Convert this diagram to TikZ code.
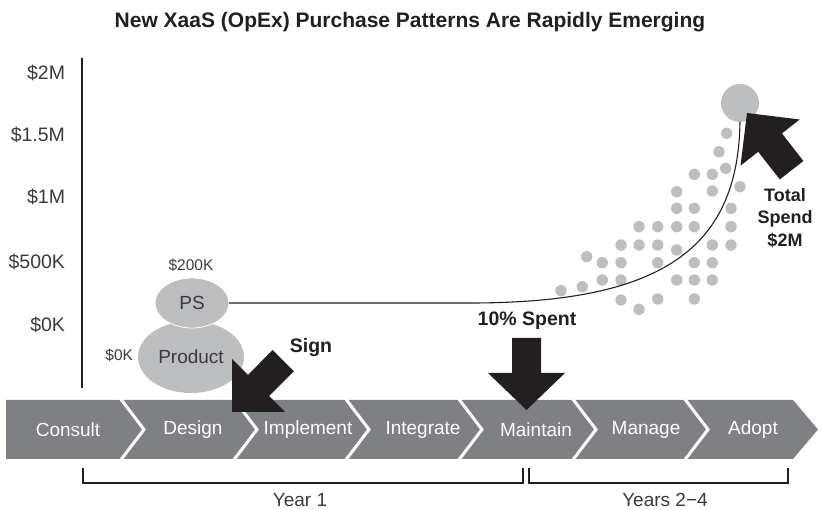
\documentclass[tikz,border=0pt]{standalone}
\usepackage{fontspec}
\setmainfont{Liberation Sans}
\usetikzlibrary{shapes.geometric}
\definecolor{band}{HTML}{7F8084}
\definecolor{blob}{HTML}{BDBEC0}
\definecolor{ink}{HTML}{231F20}
\definecolor{softink}{HTML}{3A3A3C}
\begin{document}
\begin{tikzpicture}[x=1pt,y=-1pt,
  every node/.style={inner sep=0pt, outer sep=0pt},
  axislbl/.style={font=\fontsize{19.5}{22}\selectfont, text=softink, anchor=east},
  smalllbl/.style={font=\fontsize{15.5}{18}\selectfont, text=softink},
  stagelbl/.style={font=\fontsize{19}{22}\selectfont, text=white},
  callout/.style={font=\bfseries\fontsize{19.5}{22.5}\selectfont, text=ink, align=center},
  blobshape/.style={ellipse, fill=blob, font=\fontsize{19}{22}\selectfont, text=softink},
  bigarrow/.style={fill=ink},
  dot/.style={fill=blob},
  bracket/.style={draw=ink, line width=1.2pt},
  separator/.style={draw=white, line width=3pt}
]
\useasboundingbox (0,0) rectangle (823,510);

% heading
\node[font=\bfseries\fontsize{21}{24}\selectfont, text=ink] (title) at (410,22) {New XaaS (OpEx) Purchase Patterns Are Rapidly Emerging};

% value axis
\draw[ink, line width=1.3pt] (82,58) -- (82,388);
\node[axislbl] (v2m)   at (65,73)  {\$2M};
\node[axislbl] (v15m)  at (65,135) {\$1.5M};
\node[axislbl] (v1m)   at (65,197) {\$1M};
\node[axislbl] (v500k) at (65,262) {\$500K};
\node[axislbl] (v0k)   at (65,325) {\$0K};

% lifecycle band
\fill[band] (6,400) -- (793,400) -- (818,429.5) -- (793,459) -- (6,459) -- cycle;
\foreach \x in {120,233,345,458,572,684}
  \draw[separator] (\x,398) -- (\x+24,429.5) -- (\x,461);
\node[stagelbl] (consult)   at (68,429.5)  {Consult};
\node[stagelbl] (design)    at (193,429.5) {Design};
\node[stagelbl] (implement) at (308,429.5) {Implement};
\node[stagelbl] (integrate) at (423,429.5) {Integrate};
\node[stagelbl] (maintain)  at (536,429.5) {Maintain};
\node[stagelbl] (manage)    at (646,429.5) {Manage};
\node[stagelbl] (adopt)     at (753,429.5) {Adopt};

% year brackets
\draw[bracket] (83,468) |- (523,483) -- (523,468);
\draw[bracket] (529,468) |- (788,483) -- (788,468);
\node[stagelbl, text=softink] (year1)  at (300,500) {Year 1};
\node[stagelbl, text=softink] (years24) at (665,500) {Years 2−4};

% spend blobs
\node[blobshape, minimum width=106, minimum height=72] (product) at (191,357) {Product};
\node[blobshape, draw=white, line width=0.8pt, minimum width=74, minimum height=50] (ps) at (192,303) {PS};
\node[smalllbl] (ps200) at (191,265) {\$200K};
\node[smalllbl, anchor=east] (prod0) at (133,355) {\$0K};

% recurring spend dots
\foreach \p in {(726.7,133.3),(719,151.7),(725.7,168.3),(694.3,174.3),(712.3,174.3),
  (712.3,191),(740,186.7),(676.7,191.7),(676.7,208.3),(694.3,208.3),(731,208.3),
  (639,226.7),(657.7,226.7),(676.7,226.7),(694.3,226.7),(731,226.7),
  (621,245),(639,245),(657.7,245),(676.7,250),(712.3,245),(731,245),
  (586.7,256.7),(602.3,262.7),(621,262.7),(657.7,262.7),(694.3,262.7),(712.3,262.7),
  (561,290.7),(582.3,286.7),(602.3,280),(621,280),(676.7,280),(694.3,280),(712.3,280),
  (621,300),(639,309.3),(657.7,299),(694.3,299)}
  \fill[dot] \p circle (5.7);

% total spend point and spend curve
\node[circle, fill=blob, minimum size=38] (total) at (740,103) {};
\draw[ink, line width=1.1pt] (ps.east) -- (470,303)
  .. controls (660,303) and (738,250) .. (total.south);

% sign arrow (pointing down-left)
\fill[bigarrow] (232,412) -- (285,412) -- (269.1,396.1) -- (293.9,371.3)
  -- (272.6,350.1) -- (247.9,374.9) -- (232,359) -- cycle;
\node[callout] (sign) at (311,348) {Sign};

% ten percent arrow (pointing down)
\fill[bigarrow] (526.5,410) -- (565,373) -- (541,373) -- (541,338)
  -- (512,338) -- (512,373) -- (488,373) -- cycle;
\node[callout] (spent) at (527,321) {10\% Spent};

% total spend arrow (pointing up-left)
\fill[bigarrow] (747,113) -- (799.7,119.5) -- (781.9,133.4) -- (803.4,161.0)
  -- (779.8,179.4) -- (758.2,151.8) -- (740.5,165.7) -- cycle;
\node[callout, font=\bfseries\fontsize{18}{22.5}\selectfont] (totallbl) at (785,218) {Total\\Spend\\\$2M};
\end{tikzpicture}
\end{document}
